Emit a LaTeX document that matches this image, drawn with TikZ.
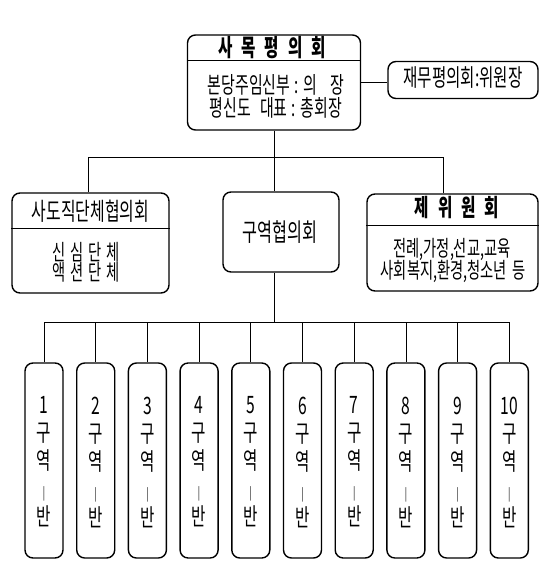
\documentclass[tikz,border=0pt]{standalone}
\usepackage{fontspec}
\newfontfamily\kr[FakeStretch=0.65]{Noto Sans CJK KR}
\usetikzlibrary{positioning, calc}
\newcommand\tgap{\hspace{9pt}}
\newcommand\sgap{\hspace{5pt}}

\tikzset{
  box/.style={draw, line width=1.4pt, rounded corners=8pt, inner sep=0pt},
  link/.style={line width=0.7pt},
  sep/.style={line width=0.8pt},
  title/.style={font=\kr\bfseries\fontsize{24}{26}\selectfont, inner sep=0pt},
  txt/.style={font=\kr\fontsize{23}{24}\selectfont, inner sep=0pt},
  bantxt/.style={font=\kr\fontsize{24}{28}\selectfont, align=center, inner sep=0pt},
}

\begin{document}
\begin{tikzpicture}[x=1pt, y=-1pt]
  \useasboundingbox (0,0) rectangle (550,563);

  % top council
  \node[box, minimum width=173pt, minimum height=95pt] (top) at (274,82.5) {};
  \draw[sep] (top.west |- 0,60) -- (top.east |- 0,60);
  \node[title] (topT) at (272,48) {사\tgap 목\tgap 평\tgap 의\tgap 회};
  \node[txt] (topA) at (276,85) {본당주임신부\hspace{4pt}:\sgap 의\hspace{13pt}장};
  \node[txt] (topB) at (276,108) {평신도\hspace{9pt}대표\hspace{4pt}:\sgap 총회장};

  \node[box, minimum width=150pt, minimum height=37pt] (fin) at (463,80) {};
  \node[txt, font=\kr\fontsize{24}{26}\selectfont] (finT) at (463,78) {재무평의회:위원장};
  \draw[link] (top.east) -- (top.east -| fin.west);

  % second level
  \node[box, minimum width=157pt, minimum height=100pt] (guild) at (90.5,243) {};
  \draw[sep] (guild.west |- 0,228) -- (guild.east |- 0,228);
  \node[txt, font=\kr\fontsize{24.5}{26}\selectfont] (guildT) at (90.5,211) {사도직단체협의회};
  \node[txt, font=\kr\fontsize{22}{24}\selectfont] (guildA) at (86,252) {신\sgap 심\sgap 단\sgap 체};
  \node[txt, font=\kr\fontsize{22}{24}\selectfont] (guildB) at (86,272) {액\sgap 션\sgap 단\sgap 체};

  \node[box, minimum width=116pt, minimum height=80pt] (mid) at (281,232) {};
  \node[txt, font=\kr\fontsize{25}{28}\selectfont] (midT) at (280,232) {구역협의회};

  \node[box, minimum width=171pt, minimum height=97pt] (comm) at (452.5,242.5) {};
  \draw[sep] (comm.west |- 0,225) -- (comm.east |- 0,225);
  \node[title] (commT) at (457,208) {제\tgap 위\tgap 원\tgap 회};
  \node[txt, font=\kr\fontsize{22}{24}\selectfont] (commA) at (452,249) {전례,가정,선교,교육};
  \node[txt, font=\kr\fontsize{22}{24}\selectfont] (commB) at (453,271) {사회복지,환경,청소년\sgap 등};

  \coordinate (hub) at (top.south |- 0,157);
  \draw[link] (top.south) -- (top.south |- mid.north);
  \draw[link] (hub) -| ([xshift=-2.5pt]guild.north);
  \draw[link] (hub) -| ([xshift=-9.5pt]comm.north);

  % district boxes
  \coordinate (hub2) at (top.south |- 0,322);
  \draw[link] (mid.south -| hub2) -- (hub2);
  \foreach \n in {1,...,10} {
    \pgfmathsetmacro\cx{44+51.7*(\n-1)}
    \node[box, minimum width=38pt, minimum height=195pt] (b\n) at (\cx,460.5) {};
    \node[bantxt] (t\n) at (\cx,462) {\n\\구\\역\\{\fontsize{13}{28}\selectfont |}\\반};
    \draw[link] (hub2) -| (b\n.north);
  }
\end{tikzpicture}
\end{document}
